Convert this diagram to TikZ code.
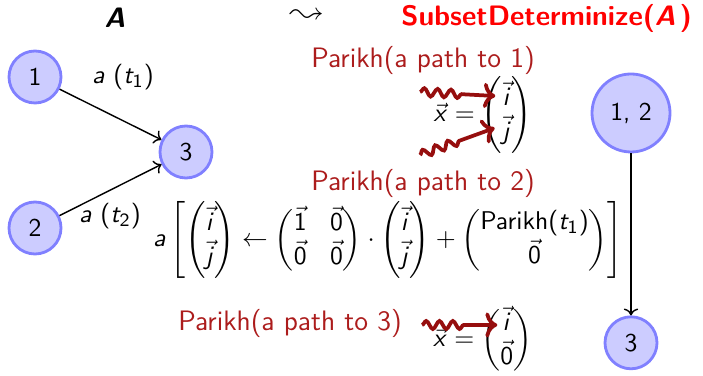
\documentclass[tikz,border=0pt,11pt]{standalone}
\usepackage{amsmath,latexsym}
\usetikzlibrary{arrows.meta, positioning, calc, decorations.pathmorphing}
\renewcommand{\familydefault}{\sfdefault}
\SetSymbolFont{operators}{normal}{OT1}{cmss}{m}{n}
\SetSymbolFont{letters}{normal}{OT1}{cmss}{m}{sl}
\SetMathAlphabet{\mathrm}{normal}{OT1}{cmss}{m}{n}
\DeclareSymbolFont{cmletters}{OML}{cmm}{m}{it}
\DeclareMathAccent{\vec}{\mathord}{cmletters}{"7E}

\definecolor{parikhred}{RGB}{172,28,28}
\definecolor{snakered}{RGB}{150,14,14}

\newcommand{\bfslA}{\tikz[baseline=(bA.base)]\node[inner sep=0pt, xslant=0.22, transform shape] (bA) {\textbf{A}};}

\tikzset{
  state/.style   = {draw=blue!50, very thick, circle, fill=blue!20,
                    minimum size=0.78cm, inner sep=0pt},
  trans/.style   = {->, semithick},
  parikh/.style  = {text=parikhred, font=\large},
  titletxt/.style = {font=\large, inner sep=1pt},
  snakearr/.style = {->, snakered, line width=1.6pt,
                    decorate, decoration={snake, amplitude=0.6mm,
                    segment length=2mm, post length=5mm}}
}

\begin{document}
\begin{tikzpicture}
  \useasboundingbox (0,0) rectangle (10.545,5.64);

  % ── Titles ────────────────────────────────────────────────────────────────
  \node[titletxt] (tA)   at (1.755,5.37) {\bfslA};
  \node[titletxt, font=\Large, inner sep=0pt] (tTo) at (4.605,5.40) {$\leadsto$};
  \node[titletxt] (tSub) at (8.2,5.37)   {\color{red}\textbf{SubsetDeterminize(\bfslA)}};

  % ── Automaton A ───────────────────────────────────────────────────────────
  \node[state] (q1) at (0.525,4.485) {1};
  \node[state] (q3) at (2.79,3.36)   {3};
  \node[state] (q2) at (0.525,2.22)  {2};

  \draw[trans] (q1) -- (q3);
  \draw[trans] (q2) -- (q3);
  \node (l1) at (1.845,4.485) {$a\ (t_1)$};
  \node (l2) at (1.65,2.40)   {$a\ (t_2)$};

  % ── Subset automaton ──────────────────────────────────────────────────────
  \node[state, minimum size=1.17cm] (s12) at (9.465,3.945) {1, 2};
  \node[state, below=2.43cm of s12] (s3) {3};
  \draw[trans] (s12) -- (s3);

  % ── Parikh vectors ────────────────────────────────────────────────────────
  \node[parikh] (p1) at (6.345,4.74)  {Parikh(a path to 1)};
  \node          (x12) at (7.24,3.915) {$\vec{x}=\begin{pmatrix}\vec{i}\\\vec{j}\end{pmatrix}$};
  \node[parikh] (p2) at (6.345,2.895) {Parikh(a path to 2)};

  \node (upd) at (5.82,2.04)
    {$a\left[\begin{pmatrix}\vec{i}\\\vec{j}\end{pmatrix}\leftarrow
      \begin{pmatrix}\vec{1}&\vec{0}\\\vec{0}&\vec{0}\end{pmatrix}\cdot
      \begin{pmatrix}\vec{i}\\\vec{j}\end{pmatrix}+
      \begin{pmatrix}\mathrm{Parikh}(t_1)\\\vec{0}\end{pmatrix}\right]$};

  \node[parikh] (p3) at (4.35,0.795) {Parikh(a path to 3)};
  \node          (x3) at (7.24,0.54)  {$\vec{x}=\begin{pmatrix}\vec{i}\\\vec{0}\end{pmatrix}$};

  % snakes into the entries
  \coordinate (w1)  at (6.30,4.26);
  \coordinate (e1)  at (7.43,4.20);
  \coordinate (w2)  at (6.30,3.315);
  \coordinate (e2)  at (7.42,3.72);
  \coordinate (w3)  at (6.33,0.765);
  \coordinate (e3)  at (7.46,0.765);
  \draw[snakearr] (w1) -- (e1);
  \draw[snakearr] (w2) -- (e2);
  \draw[snakearr] (w3) -- (e3);

\end{tikzpicture}
\end{document}
